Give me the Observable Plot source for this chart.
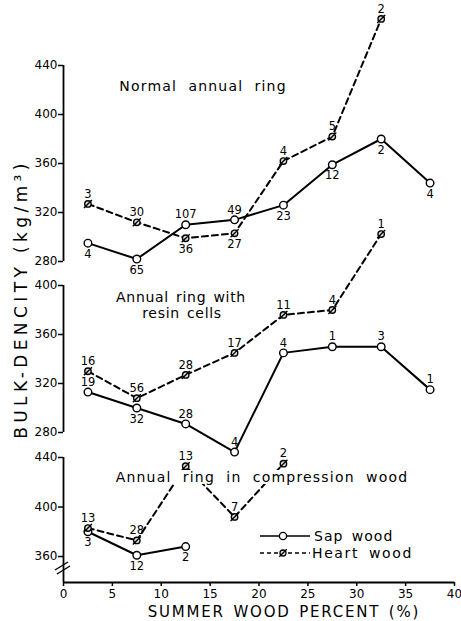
<!DOCTYPE html>
<html><head><meta charset="utf-8">
<script src="https://cdn.jsdelivr.net/npm/d3@7"></script>
<script src="https://cdn.jsdelivr.net/npm/@observablehq/plot@0.6"></script>
<style>
html,body{margin:0;padding:0;background:#fff;}
#chart{position:relative;width:461px;height:621px;overflow:hidden;font-family:"DejaVu Sans",sans-serif;}
#chart svg.pnl{position:absolute;left:0;}
#overlay{position:absolute;left:0;top:0;}
</style></head><body><div id="chart"></div>
<script>
// ---- data ----
const summerPct = [2.5, 7.5, 12.5, 17.5, 22.5, 27.5, 32.5, 37.5];
// Normal annual ring
const normalSap = [295, 282, 310, 314, 326, 359, 380, 344];
const normalSapN = ["4", "65", "107", "49", "23", "12", "2", "4"];
const normalHeart = [327, 312, 299, 303, 362, 382, 478];
const normalHeartN = ["3", "30", "36", "27", "4", "5", "2"];
// Annual ring with resin cells
const resinSap = [313, 300, 287, 264, 345, 350, 350, 315];
const resinSapN = ["19", "32", "28", "4", "4", "1", "3", "1"];
const resinHeart = [330, 308, 327, 345, 376, 380, 442];
const resinHeartN = ["16", "56", "28", "17", "11", "4", "1"];
// Annual ring in compression wood
const compSap = [380, 361, 368];
const compSapN = ["3", "12", "2"];
const compHeart = [383, 373, 433, 392, 435];
const compHeartN = ["13", "28", "13", "7", "2"];
// ticks
const yTicks1 = [280, 320, 360, 400, 440];
const yTicks2 = [280, 320, 360, 400];
const yTicks3 = [360, 400, 440];
const xTicks = [0, 5, 10, 15, 20, 25, 30, 35, 40];
const panelTitles = ["Normal  annual  ring", "Annual ring with", "resin cells", "Annual  ring  in  compression  wood"];
const seriesNames = ["Sap wood", "Heart wood"];

// ---- label placement (style: -1 above, +1 below) ----
const normalSapSide = [1, 1, -1, -1, 1, 1, 1, 1];
const normalHeartSide = [-1, -1, 1, 1, -1, -1, -1];
const resinSapSide = [-1, 1, -1, -1, -1, -1, -1, -1];
const resinHeartSide = [-1, -1, -1, -1, -1, -1, -1];
const compSapSide = [1, 1, 1];
const compHeartSide = [-1, -1, -1, -1, -1];

const rows = (vals, labels, sides) => vals.map((v, i) => ({x: summerPct[i], y: v, n: labels[i], side: sides[i]}));

// circle with a slash (heart wood marker)
const slashCircle = {
  draw(ctx, size) {
    const r = Math.sqrt(size / Math.PI);
    ctx.moveTo(r, 0);
    ctx.arc(0, 0, r, 0, 2 * Math.PI);
    ctx.moveTo(-r * 1.25, r * 1.25);
    ctx.lineTo(r * 1.25, -r * 1.25);
  }
};

const chart = document.getElementById("chart");

function panel(cfg) {
  const {top, marginTop, marginBottom, frameBottom, yDomain, yTicks, sap, heart, xAxis} = cfg;
  const height = frameBottom - top + marginBottom;
  const marks = [
    Plot.ruleX([0], {stroke: "black", strokeWidth: 1.8}),
    Plot.axisY({ticks: yTicks, tickSize: 5, tickPadding: 1, fontSize: 12, label: null, strokeWidth: 1.5})
  ];
  if (xAxis) {
    marks.push(Plot.ruleY([yDomain[0]], {stroke: "black", strokeWidth: 1.8}));
    marks.push(Plot.axisX({ticks: xTicks, tickSize: 4, tickPadding: 3, fontSize: 12, label: null, strokeWidth: 1.5}));
  }
  marks.push(
    Plot.line(sap, {x: "x", y: "y", stroke: "black", strokeWidth: 2}),
    Plot.line(heart, {x: "x", y: "y", stroke: "black", strokeWidth: 2, strokeDasharray: "6,4"}),
    Plot.dot(sap, {x: "x", y: "y", r: 3.8, fill: "white", stroke: "black", strokeWidth: 1.4}),
    Plot.dot(heart, {x: "x", y: "y", r: 3.2, symbol: slashCircle, fill: "#ddd", stroke: "black", strokeWidth: 1.4}),
    Plot.text(sap.filter(d => d.side < 0), {x: "x", y: "y", text: "n", dy: -10, fontSize: 11.5}),
    Plot.text(sap.filter(d => d.side > 0), {x: "x", y: "y", text: "n", dy: 11, fontSize: 11.5}),
    Plot.text(heart.filter(d => d.side < 0), {x: "x", y: "y", text: "n", dy: -10, fontSize: 11.5}),
    Plot.text(heart.filter(d => d.side > 0), {x: "x", y: "y", text: "n", dy: 11, fontSize: 11.5})
  );
  const svg = Plot.plot({
    width: 461, height, marginLeft: 63, marginRight: 7, marginTop, marginBottom,
    x: {domain: [0, 40], axis: null},
    y: {domain: yDomain, axis: null},
    style: {overflow: "visible", background: "transparent", fontFamily: "DejaVu Sans, sans-serif", color: "black"},
    marks
  });
  svg.classList.add("pnl");
  svg.style.position = "absolute";
  svg.style.top = top + "px";
  svg.style.left = "0px";
  chart.appendChild(svg);
}

panel({top: 0, marginTop: 65, marginBottom: 5, frameBottom: 261, yDomain: [280, 440], yTicks: yTicks1,
  sap: rows(normalSap, normalSapN, normalSapSide), heart: rows(normalHeart, normalHeartN, normalHeartSide)});
panel({top: 270, marginTop: 15, marginBottom: 5, frameBottom: 432, yDomain: [280, 400], yTicks: yTicks2,
  sap: rows(resinSap, resinSapN, resinSapSide), heart: rows(resinHeart, resinHeartN, resinHeartSide)});
panel({top: 440, marginTop: 17, marginBottom: 20, frameBottom: 582, yDomain: [339, 440], yTicks: yTicks3,
  sap: rows(compSap, compSapN, compSapSide), heart: rows(compHeart, compHeartN, compHeartSide), xAxis: true});

// ---- overlay: titles, axis labels, legend, axis break ----
const ov = d3.select(chart).append("svg").attr("id", "overlay")
  .attr("width", 461).attr("height", 621)
  .style("font-family", "DejaVu Sans, sans-serif");

function title(txt, x, y, opts = {}) {
  const g = ov.append("g");
  const t = g.append("text").attr("x", x).attr("y", y).attr("text-anchor", "middle")
    .attr("font-size", opts.size || 14).attr("letter-spacing", opts.ls || 1)
    .attr("word-spacing", opts.ws || 0).style("white-space", "pre").text(txt);
  if (opts.box) {
    const b = t.node().getBBox();
    g.insert("rect", "text").attr("x", b.x - 3).attr("y", b.y + 1).attr("width", b.width + 6).attr("height", b.height - 2).attr("fill", "white");
  }
  return t;
}
title(panelTitles[0], 203, 91, {ls: 1.2, ws: 0});
title(panelTitles[1], 181, 302, {ls: 0.7, ws: 2});
title(panelTitles[2], 182, 318, {ls: 0.7, ws: 2});
title(panelTitles[3], 262, 482, {ls: 1.2, ws: 0, box: true});

// y-axis label
ov.append("text").attr("transform", "translate(27,299) rotate(-90)").attr("text-anchor", "middle")
  .attr("font-size", 17).attr("letter-spacing", 4.4).text("BULK-DENCITY (kg/m³)");
// x-axis label
ov.append("text").attr("x", 284).attr("y", 617).attr("text-anchor", "middle")
  .attr("font-size", 15).attr("letter-spacing", 1.8).attr("word-spacing", 2).text("SUMMER WOOD PERCENT (%)");

// axis break marks
ov.append("line").attr("x1", 55).attr("y1", 570).attr("x2", 68).attr("y2", 562).attr("stroke", "black").attr("stroke-width", 1.4);
ov.append("line").attr("x1", 57).attr("y1", 574).attr("x2", 70).attr("y2", 566).attr("stroke", "black").attr("stroke-width", 1.4);

// legend
const lg = ov.append("g");
lg.append("line").attr("x1", 260).attr("x2", 310).attr("y1", 536).attr("y2", 536).attr("stroke", "black").attr("stroke-width", 1.5);
lg.append("circle").attr("cx", 283).attr("cy", 536).attr("r", 3.6).attr("fill", "white").attr("stroke", "black").attr("stroke-width", 1.3);
lg.append("text").attr("x", 314).attr("y", 541).attr("font-size", 14).attr("letter-spacing", 1).attr("word-spacing", 3).text(seriesNames[0]);
lg.append("line").attr("x1", 260).attr("x2", 310).attr("y1", 553).attr("y2", 553).attr("stroke", "black").attr("stroke-width", 1.5).attr("stroke-dasharray", "4,3");
lg.append("path").attr("transform", "translate(283,553)").attr("d", d3.symbol(slashCircle, Math.PI * 3.0 * 3.0)()).attr("fill", "#ddd").attr("stroke", "black").attr("stroke-width", 1.3);
lg.append("text").attr("x", 312).attr("y", 558).attr("font-size", 14).attr("letter-spacing", 1.6).attr("word-spacing", 4).text(seriesNames[1]);
</script></body></html>
